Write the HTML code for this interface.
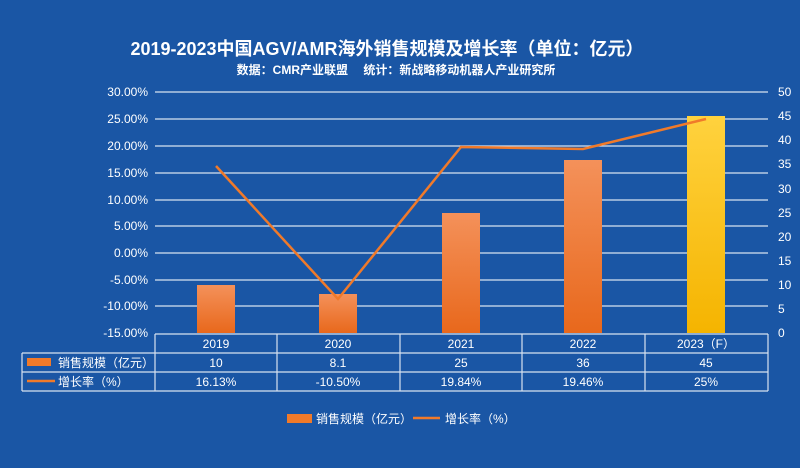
<!DOCTYPE html>
<html><head><meta charset="utf-8"><style>
body{margin:0;width:800px;height:463px;background:#1a56a5;overflow:hidden;font-family:"Liberation Sans","Noto Sans CJK SC",sans-serif;}
</style></head><body>
<svg width="800" height="463" xmlns="http://www.w3.org/2000/svg" font-family="Liberation Sans, Noto Sans CJK SC, sans-serif">
<defs>
<linearGradient id="o" x1="0" y1="0" x2="0" y2="1"><stop offset="0" stop-color="#f4915a"/><stop offset="1" stop-color="#e8681c"/></linearGradient>
<linearGradient id="y" x1="0" y1="0" x2="0" y2="1"><stop offset="0" stop-color="#ffd23e"/><stop offset="1" stop-color="#f5b400"/></linearGradient>
</defs>
<rect width="800" height="463" fill="#1a56a5"/>
<text x="387" y="55" fill="#fff" font-size="18" font-weight="bold" text-anchor="middle">2019-2023中国AGV/AMR海外销售规模及增长率（单位：亿元）</text>
<text x="396" y="74" fill="#fff" font-size="12" font-weight="bold" text-anchor="middle">数据：CMR产业联盟　  统计：新战略移动机器人产业研究所</text>
<g stroke="#d8e2f0" stroke-width="1.2">
<line x1="155" y1="92" x2="768" y2="92"/><line x1="155" y1="119" x2="768" y2="119"/><line x1="155" y1="146" x2="768" y2="146"/><line x1="155" y1="173" x2="768" y2="173"/><line x1="155" y1="200" x2="768" y2="200"/><line x1="155" y1="226" x2="768" y2="226"/><line x1="155" y1="253" x2="768" y2="253"/><line x1="155" y1="280" x2="768" y2="280"/><line x1="155" y1="306" x2="768" y2="306"/>
</g>
<g fill="#fff" font-size="12" text-anchor="end">
<text x="148" y="96">30.00%</text><text x="148" y="123">25.00%</text><text x="148" y="150">20.00%</text><text x="148" y="177">15.00%</text><text x="148" y="204">10.00%</text><text x="148" y="230">5.00%</text><text x="148" y="257">0.00%</text><text x="148" y="284">-5.00%</text><text x="148" y="310">-10.00%</text><text x="148" y="337">-15.00%</text>
</g>
<g fill="#fff" font-size="12">
<text x="778" y="96">50</text><text x="778" y="120">45</text><text x="778" y="144">40</text><text x="778" y="168">35</text><text x="778" y="193">30</text><text x="778" y="217">25</text><text x="778" y="241">20</text><text x="778" y="265">15</text><text x="778" y="289">10</text><text x="778" y="313">5</text><text x="778" y="337">0</text>
</g>
<rect x="197" y="285" width="38" height="48" fill="url(#o)"/>
<rect x="319" y="294" width="38" height="39" fill="url(#o)"/>
<rect x="442" y="213" width="38" height="120" fill="url(#o)"/>
<rect x="564" y="160" width="38" height="173" fill="url(#o)"/>
<rect x="687" y="116" width="38" height="217" fill="url(#y)"/>
<polyline points="216,166 338,299 461,147 583,149 706,119" fill="none" stroke="#f07a2a" stroke-width="2.5"/>
<g stroke="#d8e2f0" stroke-width="1.2" fill="none">
<line x1="155" y1="334" x2="768" y2="334"/><line x1="22" y1="353" x2="768" y2="353"/><line x1="22" y1="372" x2="768" y2="372"/><line x1="22" y1="391" x2="768" y2="391"/>
<line x1="22" y1="353" x2="22" y2="391"/><line x1="155" y1="334" x2="155" y2="391"/><line x1="277" y1="334" x2="277" y2="391"/><line x1="400" y1="334" x2="400" y2="391"/><line x1="522" y1="334" x2="522" y2="391"/><line x1="645" y1="334" x2="645" y2="391"/><line x1="768" y1="334" x2="768" y2="391"/>
</g>
<g fill="#fff" font-size="12" text-anchor="middle">
<text x="216" y="348">2019</text><text x="338" y="348">2020</text><text x="461" y="348">2021</text><text x="583" y="348">2022</text><text x="706" y="348">2023（F）</text>
<text x="216" y="367">10</text><text x="338" y="367">8.1</text><text x="461" y="367">25</text><text x="583" y="367">36</text><text x="706" y="367">45</text>
<text x="216" y="386">16.13%</text><text x="338" y="386">-10.50%</text><text x="461" y="386">19.84%</text><text x="583" y="386">19.46%</text><text x="706" y="386">25%</text>
</g>
<rect x="27" y="358" width="24" height="8" fill="#f07a2a"/>
<text x="58" y="367" fill="#fff" font-size="12">销售规模（亿元）</text>
<line x1="27" y1="381" x2="55" y2="381" stroke="#f07a2a" stroke-width="2.5"/>
<text x="58" y="386" fill="#fff" font-size="12">增长率（%）</text>
<rect x="287" y="414" width="25" height="9" fill="#f07a2a"/>
<text x="316" y="423" fill="#fff" font-size="12">销售规模（亿元）</text>
<line x1="413" y1="418" x2="440" y2="418" stroke="#f07a2a" stroke-width="2.5"/>
<text x="445" y="423" fill="#fff" font-size="12">增长率（%）</text>
</svg>
</body></html>
